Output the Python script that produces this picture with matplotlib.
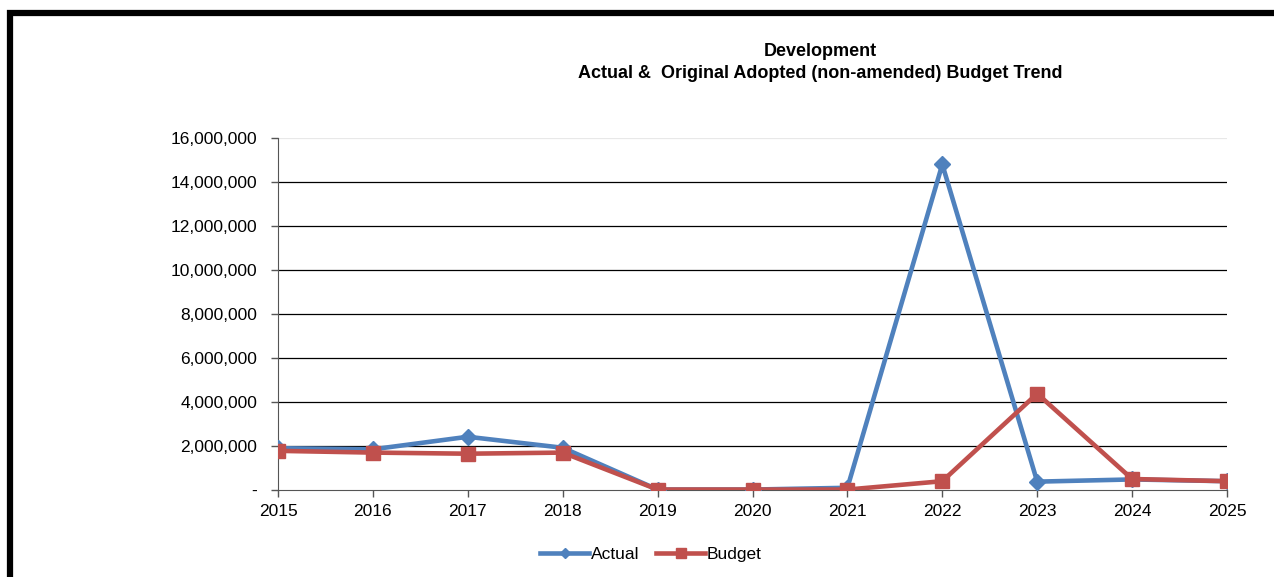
import matplotlib.pyplot as plt
from matplotlib.patches import Rectangle
from matplotlib.ticker import FuncFormatter, MultipleLocator

plt.rcParams['font.family'] = ['Liberation Sans', 'DejaVu Sans']

years = [2015, 2016, 2017, 2018, 2019, 2020, 2021, 2022, 2023, 2024, 2025]
actual = [1900000, 1850000, 2420000, 1920000, 20000, 20000, 100000, 14800000, 380000, 480000, 400000]
budget = [1780000, 1700000, 1650000, 1700000, 20000, 20000, 20000, 400000, 4380000, 500000, 400000]

blue = '#4F81BD'
red = '#C0504D'

fig = plt.figure(figsize=(12.74, 5.77), dpi=100)
ax = fig.add_axes([278 / 1274, 1 - 490 / 577, (1227 - 278) / 1274, (490 - 138) / 577])

# heavy frame around the chart area (runs off the right and bottom edges)
fig.patches.append(Rectangle((10 / 1274, -0.1), 1.2, 1 - 13 / 577 + 0.1,
                             transform=fig.transFigure, fill=False,
                             edgecolor='black', linewidth=4.5, zorder=0))

ax.plot(years, actual, color=blue, linewidth=3.3, marker='D', markersize=8,
        label='Actual', zorder=3)
ax.plot(years, budget, color=red, linewidth=3.3, marker='s', markersize=10,
        label='Budget', zorder=4)

ax.set_xlim(2015, 2025)
ax.set_ylim(0, 16000000)
ax.set_xticks(years)
ax.yaxis.set_major_locator(MultipleLocator(2000000))
ax.yaxis.set_major_formatter(FuncFormatter(lambda v, p: '-' if v == 0 else f'{v:,.0f}'))

for y in range(2000000, 16000001, 2000000):
    c = '#e8e8e8' if y == 16000000 else '#000000'
    ax.axhline(y, color=c, linewidth=0.9, zorder=1)

for s in ['top', 'right']:
    ax.spines[s].set_visible(False)
ax.spines['left'].set_color('#555555')
ax.spines['bottom'].set_color('#555555')
ax.tick_params(axis='both', labelsize=12.5, colors='#555555', labelcolor='black',
               length=5, width=1)
ax.tick_params(axis='y', pad=10)
ax.tick_params(axis='x', pad=5)

title_x = 820 / 1274
fig.text(title_x, 1 - 52 / 577, 'Development', ha='center', va='center',
         fontsize=13, fontweight='bold')
fig.text(title_x, 1 - 73 / 577, 'Actual &  Original Adopted (non-amended) Budget Trend',
         ha='center', va='center', fontsize=13, fontweight='bold')

fig.legend(loc='center', bbox_to_anchor=(651 / 1274, 1 - 554 / 577), ncol=2,
           frameon=False, fontsize=12.5, handlelength=2.8, handletextpad=0.1,
           columnspacing=1.0, markerscale=0.7)

fig.savefig('out.png', dpi=100)
